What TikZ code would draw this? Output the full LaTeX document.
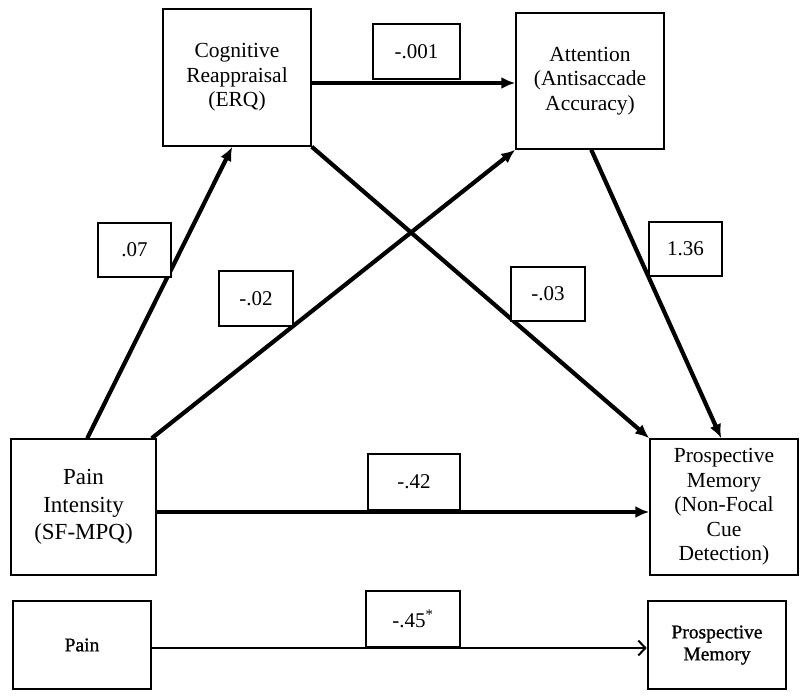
\documentclass[tikz,border=0pt]{standalone}
\usepackage{fontspec}
\setmainfont{Liberation Serif}
\usetikzlibrary{arrows.meta,calc}
\begin{document}
\begin{tikzpicture}[x=1pt,y=-1pt,
  box/.style={draw,line width=1.5pt,inner sep=0pt,align=center,
    font=\fontsize{21.5}{24.5}\selectfont},
  bigbox/.style={box,font=\fontsize{23}{27.5}\selectfont},
  lowbox/.style={draw,line width=2.6pt,inner sep=0pt,align=center,
    minimum width=138pt,minimum height=88pt,
    font=\fontsize{19.5}{22}\selectfont\addfontfeature{FakeBold=1}},
  lab/.style={draw,fill=white,line width=1.3pt,inner sep=0pt,
    font=\fontsize{21}{24}\selectfont},
  path/.style={line width=4.2pt,-{Latex[length=14pt,width=12pt]}},
  thinpath/.style={line width=2pt,-{Straight Barb[length=7pt,width=15pt,line width=2pt]}}
]
\useasboundingbox (0,0) rectangle (801,698);
% main boxes
\node[box,minimum width=148pt,minimum height=137pt] (CR) at (237,77.5) {Cognitive\\Reappraisal\\(ERQ)};
\node[box,minimum width=148pt,minimum height=136pt] (AT) at (590,81) {Attention\\(Antisaccade\\Accuracy)};
\node[bigbox,minimum width=145pt,minimum height=136pt] (PI) at (83.5,507) {Pain\\Intensity\\(SF-MPQ)};
\node[box,minimum width=148pt,minimum height=136pt] (PM) at (724,507) {Prospective\\Memory\\(Non-Focal\\Cue\\Detection)};
\node[lowbox] (P) at (82,645) {Pain};
\node[lowbox] (PM2) at (717,645) {Prospective\\Memory};
% connectors
\draw[path] ([xshift=77pt]PI.north west) -- ([xshift=70pt]CR.south west);
\draw[path] ([xshift=-5pt]PI.north east) -- (AT.south west);
\draw[path] (CR.south east) -- (PM.north west);
\draw[path] ([xshift=76pt]AT.south west) -- ([xshift=72pt]PM.north west);
\draw[path] ([yshift=-5.5pt]CR.east) coordinate (ca) -- (ca -| AT.west);
\draw[path] ([yshift=-5pt]PI.east) coordinate (pa) -- (pa -| PM.west);
\draw[thinpath] ([yshift=-3pt]P.east) coordinate (qa) -- (qa -| PM2.west);
% coefficient labels
\node[lab,minimum width=87pt,minimum height=55pt] (l001) at (416.5,51.5) {-.001};
\node[lab,minimum width=73pt,minimum height=54pt] (l07) at (134.5,250) {.07};
\node[lab,minimum width=74pt,minimum height=55pt] (l02) at (256,298.5) {-.02};
\node[lab,minimum width=74pt,minimum height=54pt] (l03) at (548,294) {-.03};
\node[lab,minimum width=73pt,minimum height=54pt] (l136) at (685.5,249) {1.36};
\node[lab,minimum width=92pt,minimum height=56pt] (l42) at (414,482) {-.42};
\node[lab,minimum width=94pt,minimum height=56pt] (l45) at (413,619) {-.45\textsuperscript{*}};
\end{tikzpicture}
\end{document}
